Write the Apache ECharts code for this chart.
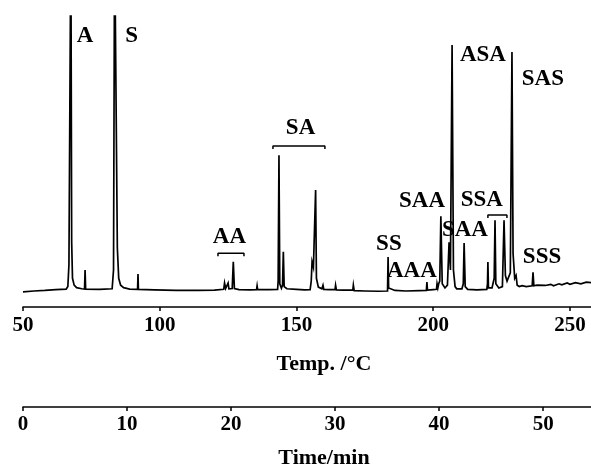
<!DOCTYPE html>
<html>
<head>
<meta charset="utf-8">
<script src="https://cdn.jsdelivr.net/npm/echarts@6/dist/echarts.min.js"></script>
<style>
  html, body { margin: 0; padding: 0; background: #fff; }
  #chart { width: 591px; height: 468px; }
</style>
</head>
<body>
<div id="chart"></div>
<script>
// trace: [temp (°C), detector signal]
const trace = [
  [50.0, 0.1], [54, 0.4], [58, 0.6], [62, 0.9], [65.8, 1.1],
  [66.4, 2], [66.8, 10], [67.5, 130], [67.8, 18], [68.1, 5], [68.7, 2.5], [69.6, 1.6], [71.5, 1.2],
  [72.5, 1.1], [72.7, 8], [72.9, 1.1],
  [78, 1.0], [82.6, 1.2], [83.1, 8], [83.5, 130], [84.2, 130], [84.5, 16], [85.0, 5], [85.7, 2.5], [86.8, 1.6], [89, 1.1],
  [91.9, 1.0], [92.05, 6.5], [92.2, 1.0],
  [98, 0.8], [106, 0.6], [114, 0.6], [120, 0.7], [123.4, 1.0], [123.7, 3.3], [124.1, 1.3], [124.7, 1.5], [125.0, 3.3], [125.3, 1.2],
  [126.5, 1.3], [126.9, 11], [127.3, 1.3], [129, 0.9], [133, 0.8],
  [135.4, 0.9], [135.6, 2.3], [135.8, 0.9], [140, 0.9], [143.1, 1.0], [143.3, 4], [143.6, 49.6], [143.9, 3], [144.5, 1.4],
  [144.9, 2.5], [145.2, 14.6], [145.5, 2], [146.5, 1.2],
  [150, 1.0], [153, 0.8], [155.0, 0.9], [155.4, 4], [155.7, 11], [156.2, 9], [157.0, 37], [157.3, 5], [158, 1.8],
  [159.3, 1.2], [159.7, 2.5], [160.0, 1.0], [162, 0.9], [164.1, 0.9], [164.3, 2.5], [164.6, 0.8], [167, 0.7],
  [170.6, 0.7], [170.8, 2.5], [171.1, 0.5],
  [175, 0.4], [180, 0.3], [183.3, 0.4], [183.5, 12.7], [183.7, 1.5], [186, 0.6], [190, 0.4], [195, 0.5],
  [197.5, 0.6], [197.7, 3.6], [197.9, 0.7], [200, 0.9], [201.2, 1.0], [201.4, 3], [201.7, 1.5], [202.0, 3], [202.4, 4],
  [202.8, 27.5], [203.3, 3], [204.3, 1.5], [205.2, 2.5], [205.8, 18], [206.3, 8], [206.9, 89.5], [207.4, 8], [208.0, 2],
  [208.6, 1.2], [210.5, 1.2], [211.0, 3], [211.3, 17.8], [211.7, 2], [212.6, 1.0],
  [216, 0.8], [219.6, 1.0], [219.85, 3], [220.0, 10.9], [220.2, 1.5], [221.5, 1.5], [222.3, 5], [222.6, 26], [222.9, 3],
  [224.0, 1.5], [225.3, 2], [225.9, 26], [226.4, 6], [227.0, 4], [228.2, 7], [228.8, 87], [229.2, 14], [229.8, 5],
  [230.3, 6], [230.7, 2.5], [231.5, 2], [232.5, 2.3], [234, 2.0], [236.2, 2.3], [236.5, 7.2], [236.8, 2.3],
  [238, 2.5], [241, 2.4], [243, 2.8], [244, 2.3], [246, 3.0], [247, 2.6], [249, 3.3], [250, 2.8], [252, 3.4],
  [254, 3.0], [256, 3.6], [257.7, 3.4]
];

// peak group labels
const peakLabels = ['A', 'S', 'AA', 'SA', 'SS', 'AAA', 'SAA', 'SAA', 'SSA', 'ASA', 'SAS', 'SSS'];
const labelTemp = [72.7, 89.7, 125.5, 151.5, 183.8, 192.2, 195.9, 211.6, 217.8, 218.2, 240.1, 239.8];
const labelSignal = [92.8, 92.8, 19.9, 59.4, 17.4, 7.6, 33.0, 22.5, 33.3, 85.9, 77.2, 12.7];

// brackets over the AA, SA and SSA groups
const bracketLeft = [121.3, 141.4, 220.0];
const bracketRight = [130.8, 160.4, 226.96];
const bracketLevel = [14.1, 52.9, 27.9];

// tick labels
const tempTicks = [50, 100, 150, 200, 250];
const timeTicks = [0, 10, 20, 30, 40, 50];

const serif = '"Liberation Serif", "DejaVu Serif", serif';

const bracketSeries = bracketLeft.map((l, i) => {
  const r = bracketRight[i], lv = bracketLevel[i], c = (l + r) / 2;
  return {
    type: 'line',
    xAxisIndex: 0,
    showSymbol: false,
    silent: true,
    lineStyle: { color: '#000', width: 1.5 },
    data: [[l, lv - 1.1], [l, lv], [c, lv], [c, lv + 0.6], [c, lv], [r, lv], [r, lv - 1.1]]
  };
});

const chart = echarts.init(document.getElementById('chart'));
chart.setOption({
  animation: false,
  backgroundColor: '#fff',
  grid: { left: 23, right: 0, top: 16, bottom: 161, outerBoundsMode: 'none', containLabel: false },
  xAxis: [
    {
      type: 'value', min: 50, max: 257.7, interval: 50,
      position: 'bottom',
      name: 'Temp. /°C', nameLocation: 'middle', nameGap: 46,
      nameTextStyle: { fontFamily: serif, fontSize: 22, fontWeight: 'bold', color: '#000', padding: [0, 0, 0, 34] },
      axisLine: { onZero: false, lineStyle: { color: '#000', width: 1.6 } },
      axisTick: { length: 4, lineStyle: { color: '#000', width: 1.5 } },
      axisLabel: {
        margin: 8, fontFamily: serif, fontSize: 21, fontWeight: 'bold', color: '#000',
        showMaxLabel: false,
        formatter: v => tempTicks.includes(v) ? String(v) : ''
      },
      splitLine: { show: false }
    },
    {
      type: 'value', min: 0, max: 54.6, interval: 10,
      position: 'bottom', offset: 100,
      name: 'Time/min', nameLocation: 'middle', nameGap: 40,
      nameTextStyle: { fontFamily: serif, fontSize: 22, fontWeight: 'bold', color: '#000', padding: [0, 0, 0, 34] },
      axisLine: { onZero: false, lineStyle: { color: '#000', width: 1.6 } },
      axisTick: { length: 4, lineStyle: { color: '#000', width: 1.5 } },
      axisLabel: {
        margin: 7, fontFamily: serif, fontSize: 21, fontWeight: 'bold', color: '#000',
        showMaxLabel: false,
        formatter: v => timeTicks.includes(v) ? String(v) : ''
      },
      splitLine: { show: false }
    }
  ],
  yAxis: { type: 'value', min: -5.4, max: 100, show: false },
  series: [
    {
      type: 'line',
      xAxisIndex: 0,
      data: trace,
      showSymbol: false,
      silent: true,
      lineStyle: { color: '#000', width: 1.7, join: 'miter' }
    },
    ...bracketSeries,
    {
      type: 'scatter',
      xAxisIndex: 0,
      symbolSize: 0,
      silent: true,
      itemStyle: { opacity: 1, color: '#000' },
      data: peakLabels.map((n, i) => ({ name: n, value: [labelTemp[i], labelSignal[i]] })),
      label: {
        show: true, position: 'inside', formatter: p => p.name, opacity: 1,
        fontFamily: serif, fontSize: 23, fontWeight: 'bold', color: '#000', align: 'center', verticalAlign: 'middle'
      }
    }
  ]
});
</script>
</body>
</html>
